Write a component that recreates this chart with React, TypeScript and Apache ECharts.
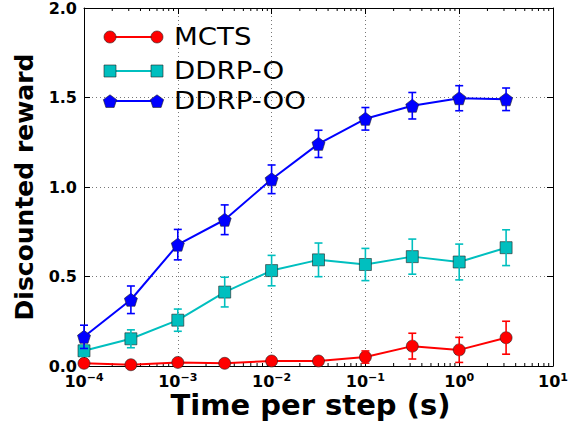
import React, { useEffect, useRef } from "react";
import * as echarts from "echarts";

const xValues = [1e-4, 3.162e-4, 1e-3, 3.162e-3, 1e-2, 3.162e-2, 1e-1, 3.162e-1, 1, 3.162];
const mctsMean = [0.015, 0.007, 0.02, 0.015, 0.028, 0.028, 0.05, 0.111, 0.09, 0.158];
const mctsErr = [0.01, 0.01, 0.012, 0.01, 0.012, 0.012, 0.034, 0.072, 0.07, 0.092];
const ddrpOMean = [0.085, 0.152, 0.256, 0.413, 0.533, 0.593, 0.567, 0.611, 0.581, 0.661];
const ddrpOErr = [0.03, 0.05, 0.062, 0.083, 0.085, 0.094, 0.09, 0.098, 0.1, 0.1];
const ddrpOOMean = [0.163, 0.37, 0.678, 0.817, 1.043, 1.241, 1.381, 1.454, 1.496, 1.49];
const ddrpOOErr = [0.065, 0.077, 0.085, 0.083, 0.08, 0.076, 0.063, 0.074, 0.07, 0.063];
const seriesNames = ["MCTS", "DDRP-O", "DDRP-OO"];
const seriesColors = ["#FF0000", "#00BFBF", "#0000FF"];
const yTicks = [0, 0.5, 1.0, 1.5, 2.0];

const FONT = "DejaVu Sans";
const PENTAGON = "path://M0,-10 L9.51,-3.09 L5.88,8.09 L-5.88,8.09 L-9.51,-3.09 Z";

function errorSeries(mean: number[], err: number[], color: string) {
  return {
    type: "custom",
    z: 5,
    silent: true,
    data: xValues.map((x, i) => [x, mean[i] - err[i], mean[i] + err[i]]),
    renderItem: (params: any, api: any) => {
      const x = api.value(0);
      const p1 = api.coord([x, api.value(1)]);
      const p2 = api.coord([x, api.value(2)]);
      const cw = 4;
      const st = { stroke: color, lineWidth: 1.6 };
      return {
        type: "group",
        children: [
          { type: "line", shape: { x1: p1[0], y1: p1[1], x2: p2[0], y2: p2[1] }, style: st },
          { type: "line", shape: { x1: p1[0] - cw, y1: p1[1], x2: p1[0] + cw, y2: p1[1] }, style: st },
          { type: "line", shape: { x1: p2[0] - cw, y1: p2[1], x2: p2[0] + cw, y2: p2[1] }, style: st },
        ],
      };
    },
  };
}

function minorTickValues() {
  const out: number[][] = [];
  for (let e = -4; e < 1; e++) {
    for (let m = 2; m <= 9; m++) out.push([m * Math.pow(10, e), 0]);
  }
  return out;
}

export default function App() {
  const ref = useRef<HTMLDivElement>(null);
  useEffect(() => {
    if (!ref.current) return;
    const chart = echarts.init(ref.current, null, { renderer: "svg" });
    const left = 84, top = 8, right = 26, bottom = 55;

    const xLabel = {
      fontFamily: FONT,
      margin: 6,
      formatter: (v: number) => {
        const e = Math.round(Math.log10(v));
        return `{b|10}{s|${e < 0 ? "\u2212" : ""}${Math.abs(e)}}`;
      },
      rich: {
        b: { fontSize: 16, fontWeight: "bold", fontFamily: FONT, color: "#000", verticalAlign: "bottom", lineHeight: 17 },
        s: { fontSize: 11, fontWeight: "bold", fontFamily: FONT, color: "#000", verticalAlign: "top", lineHeight: 11 },
      },
    };

    const legendRows = [37, 71, 101];
    const legendGraphics: any[] = [];
    const markerFor = (i: number, cx: number, cy: number) => {
      const style = { fill: seriesColors[i], stroke: "#222", lineWidth: 0.6 };
      if (i === 0) return { type: "circle", shape: { cx, cy, r: 6 }, style };
      if (i === 1) return { type: "rect", shape: { x: cx - 6, y: cy - 6, width: 12, height: 12 }, style };
      const pts: number[][] = [];
      for (let k = 0; k < 5; k++) {
        const a = -Math.PI / 2 + (k * 2 * Math.PI) / 5;
        pts.push([cx + 7 * Math.cos(a), cy + 7 * Math.sin(a) + 0.8]);
      }
      return { type: "polygon", shape: { points: pts }, style };
    };
    seriesNames.forEach((name, i) => {
      const y = legendRows[i];
      legendGraphics.push({ type: "line", shape: { x1: 110, y1: y, x2: 157, y2: y }, style: { stroke: seriesColors[i], lineWidth: 2 }, z: 10 });
      legendGraphics.push({ ...markerFor(i, 110, y), z: 11 });
      legendGraphics.push({ ...markerFor(i, 157, y), z: 11 });
      legendGraphics.push({
        type: "text", x: 174, y, z: 11, scaleX: 1.15,
        style: { text: name, fontFamily: FONT, fontSize: 24, fill: "#000", verticalAlign: "middle", align: "left" },
      });
    });

    const lineSeries = (name: string, data: number[], i: number, symbol: string, size: number) => ({
      name,
      type: "line",
      z: 3,
      data: xValues.map((x, k) => [x, data[k]]),
      symbol,
      symbolSize: size,
      showAllSymbol: true,
      clip: true,
      lineStyle: { color: seriesColors[i], width: 2 },
      itemStyle: { color: seriesColors[i], borderColor: "#222", borderWidth: 0.6 },
    });

    chart.setOption({
      animation: false,
      backgroundColor: "#fff",
      grid: { left, top, right, bottom, containLabel: false, outerBoundsMode: "none" },
      xAxis: [
        {
          type: "log", logBase: 10, min: 1e-4, max: 10, interval: 1,
          position: "bottom",
          name: "Time per step (s)", nameLocation: "middle", nameGap: 25, nameMoveOverlap: false,
          nameTextStyle: { fontFamily: FONT, fontSize: 29, fontWeight: "bold", color: "#000", lineHeight: 28, padding: [0, 16, 0, 0] },
          axisLine: { show: true, onZero: false, lineStyle: { color: "#000", width: 1 } },
          axisTick: { show: true, inside: true, length: 6, lineStyle: { color: "#000" } },
          axisLabel: xLabel,
          splitLine: { show: true, lineStyle: { type: [1, 3], color: "#777", width: 1 } },
          minorTick: { show: false },
        },
        {
          type: "log", logBase: 10, min: 1e-4, max: 10, interval: 1,
          position: "top",
          axisLine: { show: true, onZero: false, lineStyle: { color: "#000", width: 1 } },
          axisTick: { show: true, inside: true, length: 6, lineStyle: { color: "#000" } },
          axisLabel: { show: false },
          splitLine: { show: false },
        },
      ],
      yAxis: [
        {
          type: "value", min: 0, max: 2, interval: 0.5,
          name: "Discounted reward", nameLocation: "middle", nameGap: 47, nameMoveOverlap: false,
          nameTextStyle: { fontFamily: FONT, fontSize: 25, fontWeight: "bold", color: "#000" },
          axisLine: { show: true, onZero: false, lineStyle: { color: "#000", width: 1 } },
          axisTick: { show: true, inside: true, length: 6, lineStyle: { color: "#000" } },
          axisLabel: {
            fontFamily: FONT, fontSize: 16, fontWeight: "bold", color: "#000", margin: 7, lineHeight: 16,
            formatter: (v: number) => (yTicks.includes(v) ? v.toFixed(1) : ""),
          },
          splitLine: { show: true, lineStyle: { type: [1, 3], color: "#777", width: 1 } },
        },
        {
          type: "value", min: 0, max: 2, interval: 0.5, position: "right",
          axisLine: { show: true, onZero: false, lineStyle: { color: "#000", width: 1 } },
          axisTick: { show: true, inside: true, length: 6, lineStyle: { color: "#000" } },
          axisLabel: { show: false },
          splitLine: { show: false },
        },
      ],
      series: [
        {
          type: "custom",
          silent: true,
          z: 2,
          data: minorTickValues(),
          renderItem: (params: any, api: any) => {
            const c = api.coord([api.value(0), 0]);
            const cs = params.coordSys;
            const st = { stroke: "#000", lineWidth: 1 };
            return {
              type: "group",
              children: [
                { type: "line", shape: { x1: c[0], y1: cs.y + cs.height, x2: c[0], y2: cs.y + cs.height - 3 }, style: st },
                { type: "line", shape: { x1: c[0], y1: cs.y, x2: c[0], y2: cs.y + 3 }, style: st },
              ],
            };
          },
        },
        lineSeries("MCTS", mctsMean, 0, "circle", 12),
        lineSeries("DDRP-O", ddrpOMean, 1, "rect", 12),
        lineSeries("DDRP-OO", ddrpOOMean, 2, PENTAGON, 13),
        errorSeries(mctsMean, mctsErr, seriesColors[0]),
        errorSeries(ddrpOMean, ddrpOErr, seriesColors[1]),
        errorSeries(ddrpOOMean, ddrpOOErr, seriesColors[2]),
      ],
      graphic: legendGraphics,
    });
    return () => chart.dispose();
  }, []);
  return <div ref={ref} style={{ position: "fixed", left: 0, top: 0, width: 579, height: 421 }} />;
}
